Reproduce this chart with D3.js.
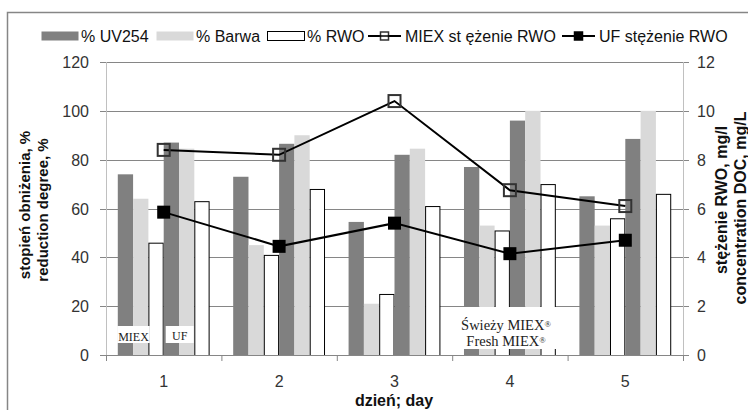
<!DOCTYPE html>
<html>
<head>
<meta charset="utf-8">
<script src="https://cdn.jsdelivr.net/npm/d3@7"></script>
<style>
  body { margin: 0; background: white; }
</style>
</head>
<body>
<svg id="chart" width="748" height="410"></svg>
<script>
let days = ["1", "2", "3", "4", "5"];
let seriesKeys = ["miexUV", "miexBarwa", "miexRWO", "ufUV", "ufBarwa", "ufRWO"];
let miexUV = [74, 73, 54.5, 77, 65];
let miexBarwa = [64, 45, 21, 53, 53];
let miexRWO = [46, 41, 25, 51, 56];
let ufUV = [87, 86.5, 82, 96, 88.5];
let ufBarwa = [84.5, 90, 84.5, 100, 100];
let ufRWO = [63, 68, 61, 70, 66];
let miexDOC = [8.4, 8.2, 10.4, 6.75, 6.1];
let ufDOC = [5.85, 4.45, 5.4, 4.15, 4.7];
let leftTicks = [0, 20, 40, 60, 80, 100, 120];
let rightTicks = [0, 2, 4, 6, 8, 10, 12];

let svg = d3.select("#chart");

let darkBar = "#808080";
let lightBar = "#d9d9d9";
let gridColor = "#868686";
let textColor = "#333333";
let sansFont = "'Liberation Sans', Arial, sans-serif";
let serifFont = "'Liberation Serif', 'Times New Roman', serif";

let plotLeft = 106, plotRight = 683, plotTop = 62, plotBottom = 355;

let x0 = d3.scaleBand().domain(days).range([plotLeft, plotRight]);
let x1 = d3.scaleBand().domain(seriesKeys).range([0, x0.bandwidth()])
  .paddingInner(0).paddingOuter(0.77);
let y = d3.scaleLinear().domain([0, 120]).range([plotBottom, plotTop]);
let y2 = d3.scaleLinear().domain([0, 12]).range([plotBottom, plotTop]);

let barValues = {
  miexUV: miexUV, miexBarwa: miexBarwa, miexRWO: miexRWO,
  ufUV: ufUV, ufBarwa: ufBarwa, ufRWO: ufRWO
};
let barFill = {
  miexUV: darkBar, miexBarwa: lightBar, miexRWO: "white",
  ufUV: darkBar, ufBarwa: lightBar, ufRWO: "white"
};

// outer frame
svg.append("path")
  .attr("d", "M7.5,410 L7.5,12.5 L748,12.5")
  .style("fill", "none")
  .style("stroke", gridColor)
  .style("stroke-width", 1.5);

// gridlines + left ticks
svg.append("g").selectAll("line")
  .data(leftTicks)
  .enter().append("line")
    .attr("x1", plotLeft - 6)
    .attr("x2", plotRight + 6)
    .attr("y1", (d) => Math.round(y(d)) + 0.5)
    .attr("y2", (d) => Math.round(y(d)) + 0.5)
    .style("stroke", gridColor)
    .style("stroke-width", 1);

// left and right axis lines
svg.append("line")
  .attr("x1", plotLeft + 0.5).attr("x2", plotLeft + 0.5)
  .attr("y1", plotTop).attr("y2", plotBottom + 6)
  .style("stroke", "#c0c0c0");
svg.append("line")
  .attr("x1", plotRight + 0.5).attr("x2", plotRight + 0.5)
  .attr("y1", plotTop).attr("y2", plotBottom)
  .style("stroke", "#c0c0c0");

// bars
let dayG = svg.append("g").selectAll("g")
  .data(days)
  .enter().append("g")
    .attr("transform", (d) => "translate(" + x0(d) + ",0)");

dayG.selectAll("rect")
  .data((d, i) => seriesKeys.map((k) => ({key: k, value: barValues[k][i]})))
  .enter().append("rect")
    .attr("x", (d) => x1(d.key) + (barFill[d.key] == "white" ? 0.5 : 0))
    .attr("y", (d) => y(d.value) + (barFill[d.key] == "white" ? 0.5 : 0))
    .attr("width", (d) => x1.bandwidth() - (barFill[d.key] == "white" ? 1 : 0))
    .attr("height", (d) => plotBottom - y(d.value))
    .style("fill", (d) => barFill[d.key])
    .style("stroke", (d) => barFill[d.key] == "white" ? "black" : "none")
    .style("stroke-width", 1);

// x axis line and category ticks
svg.append("line")
  .attr("x1", plotLeft).attr("x2", plotRight + 6)
  .attr("y1", plotBottom + 0.5).attr("y2", plotBottom + 0.5)
  .style("stroke", gridColor);
svg.append("g").selectAll("line")
  .data(days.concat(["end"]))
  .enter().append("line")
    .attr("x1", (d) => (d == "end" ? plotRight : x0(d)) + 0.5)
    .attr("x2", (d) => (d == "end" ? plotRight : x0(d)) + 0.5)
    .attr("y1", plotBottom)
    .attr("y2", plotBottom + 6)
    .style("stroke", gridColor);

// annotation boxes
function addBox(x, yTop, w, h, lines, size, baselines) {
  svg.append("rect")
    .attr("x", x).attr("y", yTop)
    .attr("width", w).attr("height", h)
    .style("fill", "white");
  lines.forEach((t, i) => {
    svg.append("text")
      .attr("x", x + w / 2)
      .attr("y", baselines[i])
      .text(t)
      .style("font-family", serifFont)
      .style("font-size", size)
      .style("text-anchor", "middle")
      .style("fill", "#222");
  });
}
addBox(x0("1") + x1("miexUV") - 0.5, 326, 32.5, 17, ["MIEX"], 12, [341]);
addBox(x0("1") + x1("ufUV") + 2, 326, 28, 17, ["UF"], 12, [340]);

svg.append("rect")
  .attr("x", 453).attr("y", 307)
  .attr("width", 124).attr("height", 42)
  .style("fill", "white");
function addFresh(text, baseline) {
  let t = svg.append("text")
    .attr("x", 506).attr("y", baseline)
    .style("font-family", serifFont)
    .style("font-size", 14.5)
    .style("text-anchor", "middle")
    .style("fill", "#222");
  t.append("tspan").text(text);
  t.append("tspan").text("®").attr("baseline-shift", "35%").style("font-size", 8.5);
}
addFresh("Świeży MIEX", 329.5);
addFresh("Fresh MIEX", 345.5);

// lines on right axis
let cx = (i) => x0(days[i]) + x0.bandwidth() / 2;
let line = d3.line()
  .x((d, i) => cx(i))
  .y((d) => y2(d));

svg.append("path")
  .datum(miexDOC)
  .attr("d", line)
  .style("fill", "none")
  .style("stroke", "black")
  .style("stroke-width", 2);
svg.append("path")
  .datum(ufDOC)
  .attr("d", line)
  .style("fill", "none")
  .style("stroke", "black")
  .style("stroke-width", 2);

let m = 12;
svg.append("g").selectAll("rect")
  .data(miexDOC)
  .enter().append("rect")
    .attr("x", (d, i) => cx(i) - m / 2)
    .attr("y", (d) => y2(d) - m / 2)
    .attr("width", m).attr("height", m)
    .style("fill", "none")
    .style("stroke", "#333")
    .style("stroke-width", 2);
svg.append("g").selectAll("rect")
  .data(ufDOC)
  .enter().append("rect")
    .attr("x", (d, i) => cx(i) - (m + 1) / 2)
    .attr("y", (d) => y2(d) - (m + 1) / 2)
    .attr("width", m + 1).attr("height", m + 1)
    .style("fill", "black");

// tick labels
svg.append("g").selectAll("text")
  .data(leftTicks)
  .enter().append("text")
    .attr("x", 89)
    .attr("y", (d) => y(d) + 6)
    .text((d) => d)
    .style("font-family", sansFont)
    .style("font-size", 16)
    .style("text-anchor", "end")
    .style("fill", textColor);
svg.append("g").selectAll("text")
  .data(rightTicks)
  .enter().append("text")
    .attr("x", 697)
    .attr("y", (d) => y2(d) + 6)
    .text((d) => d)
    .style("font-family", sansFont)
    .style("font-size", 16)
    .style("fill", textColor);
svg.append("g").selectAll("text")
  .data(days)
  .enter().append("text")
    .attr("x", (d) => x0(d) + x0.bandwidth() / 2)
    .attr("y", 387)
    .text((d) => d)
    .style("font-family", sansFont)
    .style("font-size", 16)
    .style("text-anchor", "middle")
    .style("fill", textColor);

// axis titles
function addTitle(tx, ty, angle, text, size) {
  svg.append("text")
    .attr("transform", "translate(" + tx + "," + ty + ")rotate(" + angle + ")")
    .text(text)
    .style("font-family", sansFont)
    .style("font-size", size)
    .style("font-weight", "bold")
    .style("text-anchor", "middle")
    .style("fill", "#111");
}
addTitle(30, 205, -90, "stopień obniżenia, %", 15);
addTitle(48, 210, -90, "reduction degree, %", 15);
addTitle(727, 200, -90, "stężenie RWO, mg/l", 16);
addTitle(746, 208, -90, "concentration DOC, mg/L", 16);
addTitle(394, 406, 0, "dzień; day", 16);

// legend
let legendY = 36;
let legendG = svg.append("g").style("font-family", sansFont).style("font-size", 16);
let swatches = [
  {x: 41, fill: darkBar, stroke: "none", label: "% UV254"},
  {x: 156, fill: lightBar, stroke: "none", label: "% Barwa"},
  {x: 267, fill: "white", stroke: "black", label: "% RWO"}
];
swatches.forEach((s) => {
  legendG.append("rect")
    .attr("x", s.x + 0.5).attr("y", legendY - 4.5)
    .attr("width", 37).attr("height", 9)
    .style("fill", s.fill)
    .style("stroke", s.stroke);
  legendG.append("text")
    .attr("x", s.x + 40).attr("y", legendY + 5.5)
    .text(s.label)
    .style("fill", "#111");
});
let lineItems = [
  {x: 368, filled: false, label: "MIEX st ężenie RWO"},
  {x: 562, filled: true, label: "UF stężenie RWO"}
];
lineItems.forEach((s) => {
  legendG.append("line")
    .attr("x1", s.x).attr("x2", s.x + 33)
    .attr("y1", legendY).attr("y2", legendY)
    .style("stroke", "black").style("stroke-width", 2);
  legendG.append("rect")
    .attr("x", s.x + 12.5).attr("y", legendY - 4)
    .attr("width", 8).attr("height", 8)
    .style("fill", s.filled ? "black" : "white")
    .style("stroke", s.filled ? "black" : "#333")
    .style("stroke-width", 1.5);
  if (!s.filled) {
    legendG.append("line")
      .attr("x1", s.x + 12).attr("x2", s.x + 21)
      .attr("y1", legendY).attr("y2", legendY)
      .style("stroke", "black").style("stroke-width", 1.5);
  }
  legendG.append("text")
    .attr("x", s.x + 37).attr("y", legendY + 5.5)
    .text(s.label)
    .style("fill", "#111");
});
</script>
</body>
</html>
